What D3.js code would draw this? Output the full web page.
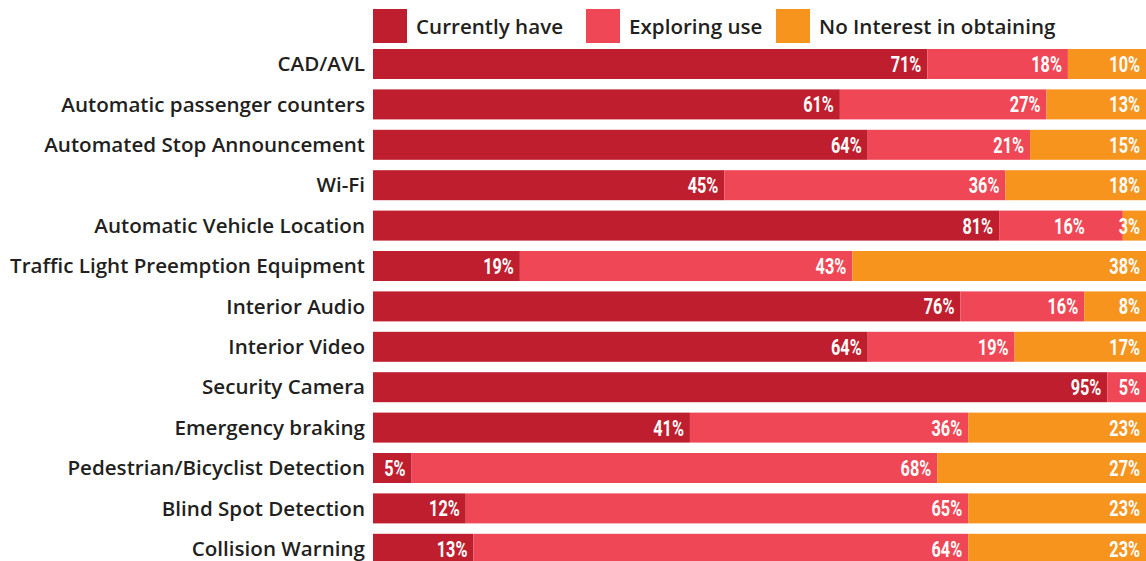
<!DOCTYPE html>
<html>
<head>
<meta charset="utf-8">
<script src="https://cdn.jsdelivr.net/npm/d3@7"></script>
<style>
  body { margin: 0; background: #fff; }
  svg { display: block; }
</style>
</head>
<body>
<div id="chart"></div>
<script>
// data
const categories = [
  "CAD/AVL",
  "Automatic passenger counters",
  "Automated Stop Announcement",
  "Wi-Fi",
  "Automatic Vehicle Location",
  "Traffic Light Preemption Equipment",
  "Interior Audio",
  "Interior Video",
  "Security Camera",
  "Emergency braking",
  "Pedestrian/Bicyclist Detection",
  "Blind Spot Detection",
  "Collision Warning"
];
const seriesNames = ["Currently have", "Exploring use", "No Interest in obtaining"];
const currentlyHave = [71, 61, 64, 45, 81, 19, 76, 64, 95, 41, 5, 12, 13];
const exploringUse = [18, 27, 21, 36, 16, 43, 16, 19, 5, 36, 68, 65, 64];
const noInterest = [10, 13, 15, 18, 3, 38, 8, 17, 0, 23, 27, 23, 23];
const colors = ["#BE1E2D", "#EF4755", "#F7941E"];

const width = 1146, height = 561;
const margin = { left: 373, right: 0, top: 49 };
const labelFont = "'Open Sans', Lato, sans-serif";

const rows = categories.map((c, i) => ({
  cat: c,
  s0: currentlyHave[i],
  s1: exploringUse[i],
  s2: noInterest[i]
}));

const svg = d3.select("#chart").append("svg")
  .attr("width", width)
  .attr("height", height);

const keys = ["s0", "s1", "s2"];
const stacked = d3.stack()
  .keys(keys)
  .offset(d3.stackOffsetExpand)(rows);

const x = d3.scaleLinear()
  .domain([0, 1])
  .range([margin.left, width - margin.right]);

const y = d3.scaleBand()
  .domain(categories)
  .range([margin.top, margin.top + 12 * 40.4 + 30])
  .paddingInner(10.4 / 40.4)
  .paddingOuter(0);

const segs = (d, li) => d
  .map((s, ri) => ({ s: s, key: d.key, li: li, ri: ri }))
  .filter(e => e.s.data[e.key] > 0);

// bars
const layers = svg.append("g").selectAll("g")
  .data(stacked).enter()
  .append("g")
  .attr("fill", (d, i) => colors[i]);

layers.selectAll("rect")
  .data(segs)
  .enter().append("rect")
  .attr("x", d => x(d.s[0]))
  .attr("y", d => y(d.s.data.cat))
  .attr("width", d => x(d.s[1]) - x(d.s[0]))
  .attr("height", y.bandwidth());

// value labels (pushed left when the next segment is too thin to hold its own)
const labelEnd = d => {
  let end = Math.min(x(d.s[1]) - 6, width - 5);
  const next = stacked[d.li + 1];
  if (next) {
    const w = x(next[d.ri][1]) - x(next[d.ri][0]);
    if (w > 0 && w < 30) end -= 32;
  }
  return end;
};

// horizontal squeeze gives the condensed look
svg.append("g").selectAll("text")
  .data(stacked.flatMap(segs))
  .enter().append("text")
  .attr("transform", d => `translate(${labelEnd(d)},${y(d.s.data.cat) + y.bandwidth() / 2}) scale(0.74,1)`)
  .attr("dy", "0.36em")
  .attr("text-anchor", "end")
  .attr("fill", "#fff")
  .attr("font-family", "Roboto, sans-serif")
  .attr("font-weight", "bold")
  .attr("font-size", "22px")
  .text(d => d.s.data[d.key] + "%");

// category labels
const yAxis = svg.append("g")
  .attr("transform", `translate(${margin.left - 8},0)`)
  .call(d3.axisLeft(y).tickSize(0).tickPadding(0));
yAxis.select(".domain").remove();
yAxis.selectAll("text")
  .attr("font-family", labelFont)
  .attr("font-size", "20.6px")
  .attr("font-weight", 600)
  .attr("fill", "#231F20")
  .attr("dy", "0.35em");

// legend
const legendX = [373, 586, 776];
const legend = svg.append("g").selectAll("g")
  .data(seriesNames).enter()
  .append("g")
  .attr("transform", (d, i) => `translate(${legendX[i]},9)`);

legend.append("rect")
  .attr("width", 34)
  .attr("height", 34)
  .attr("fill", (d, i) => colors[i]);

legend.append("text")
  .attr("x", 43)
  .attr("y", 18)
  .attr("dy", "0.35em")
  .attr("font-family", labelFont)
  .attr("font-size", "20.6px")
  .attr("font-weight", 600)
  .attr("fill", "#231F20")
  .text(d => d);
</script>
</body>
</html>
